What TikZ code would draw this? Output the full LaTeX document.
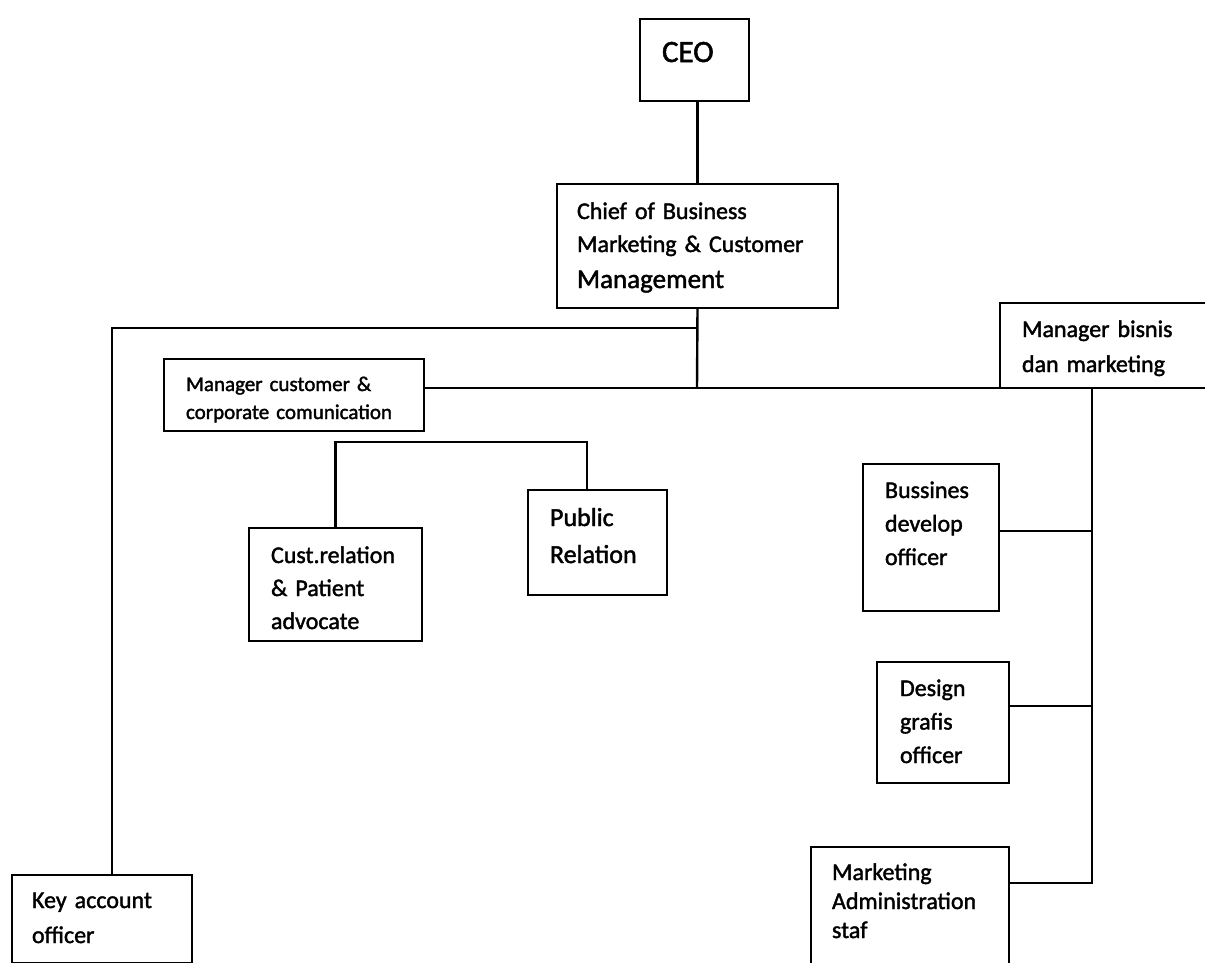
\documentclass[tikz,border=0pt]{standalone}
\usepackage{fontspec}
\setmainfont{Carlito}[FakeBold=1.6]
\newcommand\fsz[2]{\fontsize{#1}{#2}\selectfont}
\tikzset{
  orgbox/.style={draw, rectangle, line width=2.8pt, inner sep=0pt, outer sep=0pt, anchor=north west},
  lbl/.style={anchor=base west, inner sep=0pt, outer sep=0pt, align=left, text width=#1},
  lbl/.default=400pt,
  wire/.style={line width=2.4pt}
}
\begin{document}
\begin{tikzpicture}[x=1pt,y=-1pt]
\useasboundingbox (0,0) rectangle (1205,962);
\fill[white] (0,0) rectangle (1205,962);
\clip (0,0) rectangle (1205,962);

% boxes
\node[orgbox, minimum width=109pt, minimum height=82pt]  (ceo)   at (640,19)  {};
\node[orgbox, minimum width=281pt, minimum height=124pt] (chief) at (557,184) {};
\node[orgbox, minimum width=260pt, minimum height=72pt]  (mcc)   at (164,359) {};
\node[orgbox, minimum width=240pt, minimum height=85pt]  (mbm)   at (1000,303) {};
\node[orgbox, minimum width=173pt, minimum height=113pt] (cust)  at (249,528) {};
\node[orgbox, minimum width=139pt, minimum height=105pt] (pr)    at (528,490) {};
\node[orgbox, minimum width=136pt, minimum height=147pt] (bdo)   at (863,464) {};
\node[orgbox, minimum width=132pt, minimum height=121pt] (dgo)   at (877,662) {};
\node[orgbox, minimum width=198pt, minimum height=120pt] (mas)   at (811,847) {};
\node[orgbox, minimum width=180pt, minimum height=88pt]  (kao)   at (12,875)  {};

% texts
\node[lbl, font=\fsz{31}{36}] (ceo-t) at (662,62) {CEO};
\node[lbl, font=\fsz{24}{33}] (chief-t) at (577,219)
  {Chief of Business\\Marketing \& Customer\\[3pt]{\fsz{27}{36}Management}};
\node[lbl, font=\fsz{21}{28}] (mcc-t) at (186,391) {Manager customer \&\\corporate comunication};
\node[lbl, font=\fsz{24}{35}] (mbm-t) at (1022,337) {Manager bisnis\\dan marketing};
\node[lbl, font=\fsz{24}{33}] (cust-t) at (271,563) {Cust.relation\\\& Patient\\advocate};
\node[lbl, font=\fsz{26}{37}] (pr-t) at (550,526) {Public\\Relation};
\node[lbl, font=\fsz{24}{33.5}] (bdo-t) at (885,498) {Bussines\\develop\\officer};
\node[lbl, font=\fsz{24}{33.5}] (dgo-t) at (900,696) {Design\\grafis\\officer};
\node[lbl, font=\fsz{24}{29}] (mas-t) at (832,880) {Marketing\\Administration\\staf};
\node[lbl, font=\fsz{24}{35}] (kao-t) at (32,908) {Key account\\officer};

% junction coordinates
\coordinate (jL)  at (697,328);
\coordinate (bus) at (697,388);
\coordinate (rt)  at (1092,388);
\coordinate (rb)  at (1092,883);
\coordinate (kt)  at (112,875);
\coordinate (yb)  at (1092,531);
\coordinate (yd)  at (1092,706);
\coordinate (brk) at (587,442);

% connectors
\draw[wire] (chief.north) -- (chief.north |- ceo.south);
\draw[wire] (chief.south) -- (bus);
\draw[wire] (jL) -| (kt);
\draw[wire] (mcc.east |- bus) -- (mbm.south west);
\draw[wire] (rt) -- (rb) -- (rb -| mas.east);
\draw[wire] (yb) -- (yb -| bdo.east);
\draw[wire] (yd) -- (yd -| dgo.east);
\draw[wire] (cust.north) |- (brk) -- (brk |- pr.north);
\end{tikzpicture}
\end{document}
